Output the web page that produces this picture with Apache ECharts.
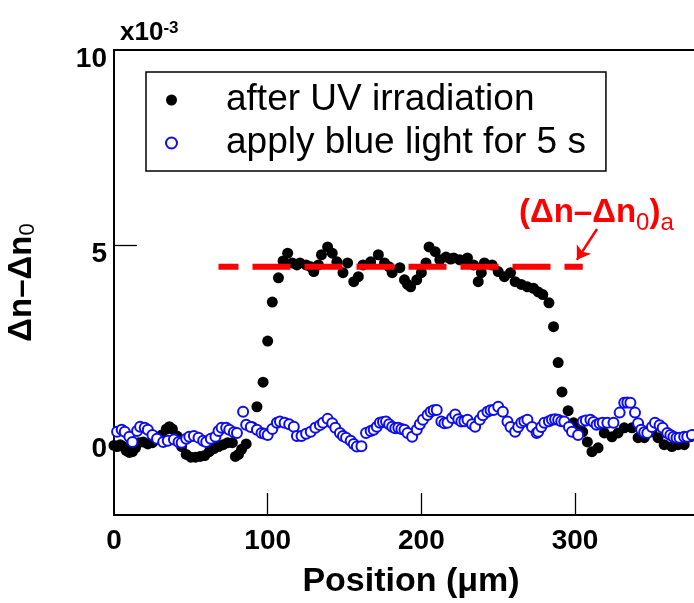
<!DOCTYPE html>
<html>
<head>
<meta charset="utf-8">
<script src="https://cdn.jsdelivr.net/npm/echarts@6/dist/echarts.min.js"></script>
<style>
  html, body { margin: 0; padding: 0; background: #fff; }
  #pic1 { width: 694px; height: 603px; }
</style>
</head>
<body>
<div id="pic1"></div>
<script>
// position (um), delta n - delta n0 (x10^-3)
var uvData = [
  [0,-0.12],[2,-0.15],[4,-0.1],[6,-0.15],[8,-0.25],[10,-0.3],[12,-0.28],[14,-0.18],[16,-0.05],[19,-0.03],
  [22,-0.08],[25,-0.05],[28,0.05],[31,0.15],[34,0.3],[36,0.36],[38,0.3],[41,0.12],[44,-0.15],[47,-0.35],
  [50,-0.42],[53,-0.42],[56,-0.4],[59,-0.38],[62,-0.28],[65,-0.2],[68,-0.15],[71,-0.1],[74,-0.05],[77,-0.05],
  [79,-0.4],[81,-0.35],[83,-0.22],[86,-0.08],[90,0.36],[93,0.87],[97,1.5],[100,2.55],[103,3.55],[107,4.17],
  [110,4.6],[113,4.8],[116,4.55],[119,4.5],[121,4.55],[125,4.5],[128,4.45],[130,4.33],[133,4.5],[135,4.76],
  [139,4.96],[142,4.8],[145,4.58],[149,4.3],[152,4.55],[156,4.07],[159,4.2],[162,4.5],[167,4.58],[172,4.76],
  [176,4.55],[179,4.45],[181,4.3],[186,4.43],[189,4.12],[191,4.0],[193,3.94],[197,4.12],[200,4.3],[203,4.55],
  [205,4.96],[209,4.84],[212,4.63],[216,4.7],[219,4.65],[221,4.68],[225,4.63],[228,4.6],[230,4.68],[234,4.5],
  [237,4.07],[239,4.3],[241,4.55],[246,4.5],[250,4.33],[254,4.2],[258,4.3],[261,4.07],[265,4.0],[269,3.94],
  [273,3.9],[276,3.81],[279,3.74],[283,3.53],[286,2.92],[289,2.0],[291.5,1.25],[295.5,0.77],[299,0.46],[302,0.28],
  [305,0.23],[308,-0.03],[311,-0.28],[315,-0.18],[319,0.2],[324,0.1],[328,0.2],[332,0.33],[337,0.33],[341,0.08],
  [345,0.08],[350,0.23],[354,0.08],[358,-0.1],[363,-0.15],[367,-0.1],[371,-0.1],[375,0.1]
];

var blueData = [
  [2,0.23],[5,0.28],[7,0.23],[10,0.1],[12,-0.03],[15,0.25],[17,0.36],[20,0.33],[22,0.28],[25,0.15],
  [28,0.05],[32,-0.03],[35,0.0],[39,0.03],[42,-0.03],[44,-0.05],[47,0.05],[49,0.1],[52,0.12],[55,0.08],
  [58,0.0],[60,-0.03],[63,0.05],[66,0.1],[68,0.25],[70,0.33],[73,0.33],[75,0.28],[78,0.22],[80,0.2],
  [84,0.74],[86,0.41],[89,0.35],[93,0.28],[96,0.2],[98,0.18],[100,0.15],[103,0.3],[106,0.46],[108,0.49],
  [111,0.46],[114,0.42],[117,0.36],[119,0.12],[122,0.12],[125,0.18],[128,0.23],[131,0.33],[134,0.4],[136,0.46],
  [139,0.56],[142,0.45],[144,0.33],[147,0.2],[149,0.12],[151,0.08],[154,0.0],[156,-0.08],[158,-0.15],[161,-0.14],
  [164,0.2],[167,0.25],[169,0.28],[171,0.36],[173,0.46],[175,0.48],[177,0.49],[179,0.42],[181,0.36],[183,0.32],
  [185,0.33],[187,0.3],[189,0.28],[191,0.2],[194,0.1],[197,0.28],[199,0.42],[201,0.54],[204,0.66],[206,0.74],
  [208,0.78],[210,0.79],[213,0.49],[215,0.45],[217,0.46],[220,0.58],[222,0.67],[224,0.55],[226,0.49],[228,0.5],
  [230,0.54],[233,0.42],[235,0.36],[238,0.54],[240,0.65],[243,0.74],[245,0.78],[247,0.79],[250,0.87],[253,0.74],
  [256,0.49],[258,0.35],[261,0.23],[263,0.35],[265,0.46],[267,0.5],[269,0.54],[272,0.35],[275,0.2],[276,0.23],
  [278,0.35],[280,0.46],[283,0.5],[285,0.54],[287,0.55],[289,0.54],[291,0.5],[293,0.49],[296,0.35],[298,0.23],
  [302,0.15],[305,0.49],[307,0.52],[310,0.54],[312,0.48],[314,0.41],[316,0.44],[318,0.46],[321,0.46],[325,0.46],
  [329,0.72],[332,0.97],[334,0.98],[336,0.97],[339,0.72],[341,0.45],[343,0.28],[345,0.22],[347,0.2],[350,0.35],
  [352,0.46],[355,0.4],[357,0.33],[360,0.2],[362,0.15],[364,0.1],[366,0.08],[368,0.08],[371,0.1],[373,0.1],[376,0.15]
];

// saturation level line and the arrow pointing at it
var levelLine = [[68, 4.45], [305, 4.45]];
var arrowPts = [[314.3, 5.42], [301.2, 4.63]];

var xLabels = [0, 100, 200, 300];
var xTicks = [100, 200, 300];
var yLabels = [0, 5, 10];
var yTicks = [5];

var seriesNames = ['after UV irradiation', 'apply blue light for 5 s'];

var FONT = 'Liberation Sans, Arial, sans-serif';

var pic1 = echarts.init(document.getElementById('pic1'));

var option = {
    animation: false,
    backgroundColor: '#fff',
    grid: {
        left: 114, top: 50, right: -14, bottom: 88,
        outerBoundsMode: 'none',
        containLabel: false,
        show: true, borderColor: '#000', borderWidth: 2
    },
    legend: {
        orient: 'vertical',
        left: 146, top: 72,
        data: seriesNames,
        padding: [8, 20, 8, 19],
        borderColor: '#000',
        borderWidth: 1.5,
        borderRadius: 0,
        itemWidth: 11, itemHeight: 11,
        itemGap: 3,
        textStyle: {
            fontFamily: FONT, fontSize: 37, color: '#000',
            lineHeight: 40, padding: [0, 0, 0, 44]
        }
    },
    xAxis: {
        type: 'value',
        min: 0, max: 386.5, interval: 100,
        name: 'Position (μm)',
        nameLocation: 'middle',
        nameGap: 50,
        nameTextStyle: { fontFamily: FONT, fontSize: 34, fontWeight: 'bold', color: '#000' },
        axisLine: { onZero: false, lineStyle: { color: '#000', width: 2 } },
        axisTick: { inside: true, length: 22, customValues: xTicks, lineStyle: { color: '#000', width: 1.3 } },
        axisLabel: {
            customValues: xLabels,
            fontFamily: FONT, fontSize: 28, fontWeight: 'bold', color: '#000', margin: 12
        },
        splitLine: { show: false }
    },
    yAxis: {
        type: 'value',
        min: -1.9, max: 10,
        name: '{m|Δn–Δn}{s|0}',
        nameLocation: 'middle',
        nameGap: 75,
        nameRotate: 90,
        nameTextStyle: {
            rich: {
                m: { fontFamily: FONT, fontSize: 33, fontWeight: 'bold', color: '#000' },
                s: { fontFamily: FONT, fontSize: 22, color: '#000', verticalAlign: 'bottom', padding: [12, 0, 0, 0] }
            }
        },
        axisLine: { onZero: false, lineStyle: { color: '#000', width: 2 } },
        axisTick: { inside: true, length: 23, customValues: yTicks, lineStyle: { color: '#000', width: 1.3 } },
        axisLabel: {
            customValues: yLabels,
            fontFamily: FONT, fontSize: 28, fontWeight: 'bold', color: '#000',
            margin: 7, verticalAlign: 'top', lineHeight: 18
        },
        splitLine: { show: false }
    },
    graphic: [
        {
            type: 'text', left: 120, top: 20,
            style: {
                text: '{b|x10}{s|-3}',
                rich: {
                    b: { fontFamily: FONT, fontSize: 26, fontWeight: 'bold', fill: '#000', verticalAlign: 'bottom' },
                    s: { fontFamily: FONT, fontSize: 17, fontWeight: 'bold', fill: '#000', verticalAlign: 'top' }
                }
            }
        },
        {
            type: 'text', left: 519, top: 196,
            style: {
                text: '{m|(Δn–Δn}{s|0}{m|)}{s|a}',
                rich: {
                    m: { fontFamily: FONT, fontSize: 33, fontWeight: 'bold', fill: '#ff0000', verticalAlign: 'bottom' },
                    s: { fontFamily: FONT, fontSize: 24, fill: '#ff0000', verticalAlign: 'bottom', padding: [0, 0, -6, 0] }
                }
            }
        }
    ],
    series: [
        {
            name: seriesNames[0],
            type: 'scatter',
            data: uvData,
            symbol: 'circle',
            symbolSize: 11,
            itemStyle: { color: '#000', opacity: 1 },
            z: 3
        },
        {
            name: seriesNames[1],
            type: 'scatter',
            data: blueData,
            symbol: 'emptyCircle',
            symbolSize: 10,
            itemStyle: { color: '#0d0dee', borderColor: '#0d0dee', borderWidth: 1.6, opacity: 1 },
            z: 4
        },
        {
            name: 'level',
            type: 'line',
            data: levelLine,
            symbol: 'none',
            lineStyle: { color: '#ff0000', width: 6, type: [38, 14], dashOffset: 18 },
            markLine: {
                silent: true,
                symbol: ['none', 'arrow'],
                symbolSize: 13,
                label: { show: false },
                lineStyle: { color: '#ff0000', width: 2.5, type: 'solid' },
                data: [[{ coord: arrowPts[0] }, { coord: arrowPts[1] }]]
            },
            z: 5
        }
    ]
};

pic1.setOption(option);
</script>
</body>
</html>
